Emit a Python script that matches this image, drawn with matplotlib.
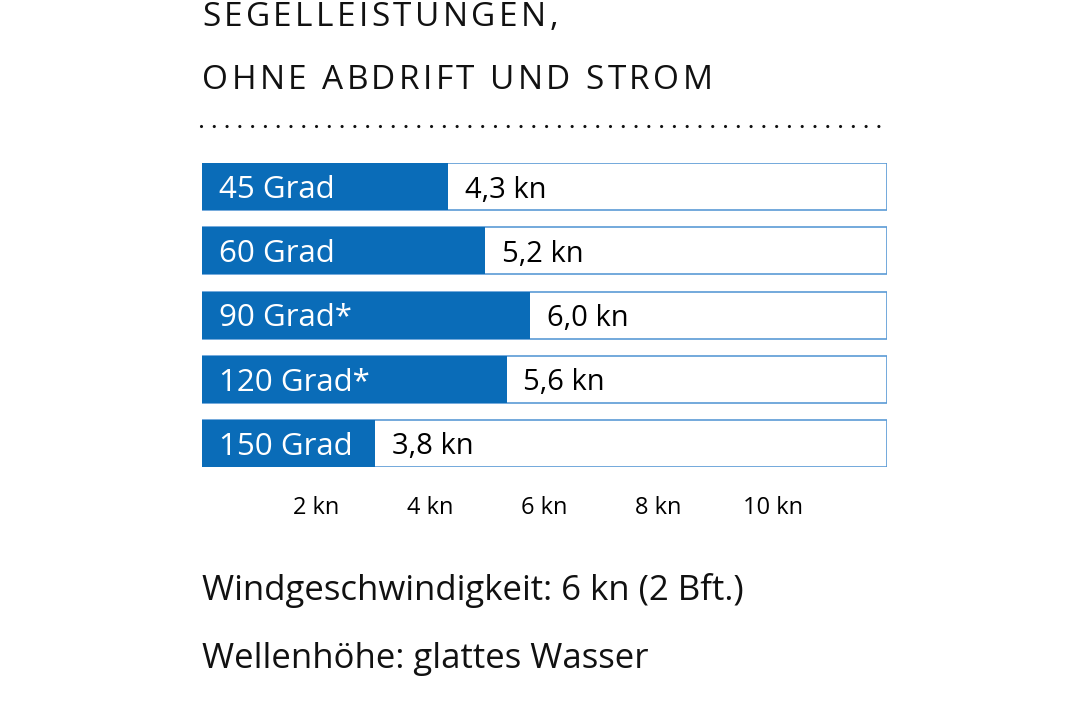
import matplotlib
matplotlib.use("Agg")
import matplotlib.pyplot as plt
from matplotlib.lines import Line2D

# data
winkel = ["45 Grad", "60 Grad", "90 Grad*", "120 Grad*", "150 Grad"]
speed_lbl = ["4,3 kn", "5,2 kn", "6,0 kn", "5,6 kn", "3,8 kn"]
# bar lengths as drawn in the reference (not strictly to scale)
bar_len = [4.31, 4.96, 5.75, 5.34, 3.03]
x_ticks = [2, 4, 6, 8, 10]
x_ticklabels = ["2 kn", "4 kn", "6 kn", "8 kn", "10 kn"]
x_max = 12

title_lines = ["SEGELLEISTUNGEN,", "OHNE ABDRIFT UND STROM"]
footer_lines = ["Windgeschwindigkeit: 6 kn (2 Bft.)", "Wellenhöhe: glattes Wasser"]

BLUE = "#0a6cb8"
EDGE = "#5b9bd5"
FONT = ["Open Sans", "DejaVu Sans"]
plt.rcParams['font.family'] = FONT

W, H = 1068, 712
fig = plt.figure(figsize=(W / 100, H / 100), dpi=100)
fig.patch.set_facecolor("white")
renderer = fig.canvas.get_renderer()


def tracked_text(x_px, base_px, s, track_px, **kw):
    # draw s char by char with extra letter spacing (title is tracked in the original)
    probe = fig.text(0, 0, "|", **kw)
    bar_w = probe.get_window_extent(renderer).width
    probe.remove()
    for i, ch in enumerate(s):
        if ch == " ":
            continue
        t = fig.text(0, 0, s[:i] + "|", **kw)
        off = t.get_window_extent(renderer).width - bar_w
        t.remove()
        fig.text((x_px + off + i * track_px) / W, 1 - base_px / H, ch,
                 va="baseline", ha="left", **kw)


# axes spans the bar block (pixels 202..887 x 163..467)
ax = fig.add_axes([202 / W, 1 - 467 / H, 685 / W, 304 / H])
y = list(range(len(winkel)))
half = 23.5 / 64.25
ax.barh(y, [x_max] * len(y), height=2 * half, left=0, color="white",
        edgecolor=EDGE, linewidth=1.2, zorder=1)
ax.barh(y, bar_len, height=2 * half, color=BLUE, edgecolor="none", zorder=2)
for i in y:
    ax.annotate(winkel[i], (0, i), xytext=(12, 0), textcoords="offset points",
                ha="left", va="center_baseline", color="white", fontsize=22.5, zorder=3)
    ax.annotate(speed_lbl[i], (bar_len[i], i), xytext=(12, 0), textcoords="offset points",
                ha="left", va="center_baseline", color="black", fontsize=21, zorder=3)
ax.set_xlim(0, x_max)
ax.set_ylim(len(y) - 1 + half, -half)
ax.set_xticks(x_ticks)
ax.set_xticklabels(x_ticklabels, fontsize=17)
ax.set_yticks([])
ax.tick_params(axis="x", length=0, pad=21)
for s in ax.spines.values():
    s.set_visible(False)

# title
for txt, base in zip(title_lines, [26, 89]):
    tracked_text(202, base, txt, 3.4, fontsize=24, color="#111111")

# dotted rule
fig.add_artist(Line2D([201 / W, 887 / W], [1 - 126 / H] * 2, transform=fig.transFigure,
                      color="#111111", lw=2.3, linestyle=(0, (0.001, 4.0)),
                      dash_capstyle="round"))

# footer
for txt, base in zip(footer_lines, [600, 668]):
    fig.text(202 / W, 1 - base / H, txt, fontsize=25, va="baseline", ha="left", color="#111111")

fig.savefig("out.png", dpi=100, facecolor="white")
